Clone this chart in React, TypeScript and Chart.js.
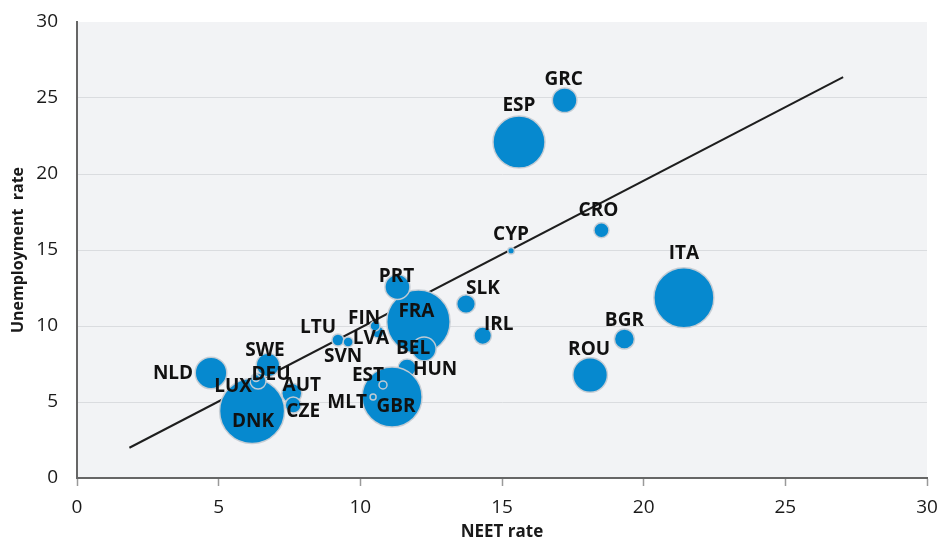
import React, { useEffect, useRef } from "react";
import { Chart, registerables } from "chart.js";

Chart.register(...registerables);

// ---- Data (drawing order: larger bubbles first) ----
const countries = [
  "DNK", "FRA", "ITA", "ESP", "ROU", "NLD", "GRC", "PRT", "SWE", "HUN",
  "GBR", "BEL", "AUT", "BGR", "SLK", "IRL", "CZE", "DEU", "CRO", "LTU",
  "LVA", "SVN", "FIN", "EST", "LUX", "CYP", "MLT",
];
const neetRate = [
  6.18, 12.05, 21.42, 15.6, 18.11, 4.73, 17.21, 11.31, 6.74, 11.65,
  11.12, 12.25, 7.58, 19.32, 13.73, 14.32, 7.63, 6.39, 18.51, 9.21,
  10.62, 9.57, 10.52, 10.8, 6.32, 15.32, 10.45,
];
const unemploymentRate = [
  4.41, 10.28, 11.86, 22.1, 6.78, 6.91, 24.85, 12.57, 7.43, 7.24,
  5.33, 8.49, 5.57, 9.14, 11.45, 9.36, 4.8, 6.38, 16.3, 9.08,
  9.61, 8.95, 10.0, 6.12, 6.58, 14.95, 5.33,
];
const bubbleSize = [
  32.5, 31.7, 30, 26, 17.3, 15.8, 12.3, 12.5, 11.7, 9,
  30, 12, 10, 10, 9.3, 8.7, 8, 8, 7.5, 6,
  6, 5, 5, 4, 3.5, 3.3, 3,
];
const trendNeet = [1.85, 27.04];
const trendUnemployment = [1.99, 26.38];
const axisTicks = [0, 5, 10, 15, 20, 25, 30];

// ---- Label placement (pixel offsets from bubble centre) ----
const labelOffsets: Record<string, [number, number]> = {
  GRC: [-1, -21], ESP: [0, -36], CRO: [-3, -20], CYP: [0, -16], ITA: [0, -44],
  SLK: [17, -15], IRL: [16, -11], BGR: [0, -18], ROU: [-1, -25], PRT: [-1, -10],
  FRA: [-2, -10], BEL: [-11, 0], HUN: [28, 2], GBR: [4, 10], EST: [-15, -9],
  MLT: [-26, 6], LTU: [-20, -12], SVN: [-5, 15], FIN: [-11, -7], LVA: [-7, 7],
  DNK: [1, 11], NLD: [-38, 1], SWE: [-3, -14], DEU: [13, -6], LUX: [-23, 9],
  AUT: [10, -8], CZE: [10, 7],
};

const FONT = "'Open Sans', 'DejaVu Sans', sans-serif";

const plotBackground = {
  id: "plotBackground",
  beforeDraw(chart: any) {
    const { ctx, chartArea } = chart;
    ctx.save();
    ctx.fillStyle = "#f2f3f5";
    ctx.fillRect(chartArea.left, chartArea.top, chartArea.right - chartArea.left, chartArea.bottom - chartArea.top);
    ctx.restore();
  },
};

const countryLabels = {
  id: "countryLabels",
  afterDatasetsDraw(chart: any) {
    const { ctx } = chart;
    const meta = chart.getDatasetMeta(1);
    ctx.save();
    ctx.font = `bold 19px ${FONT}`;
    ctx.fillStyle = "#111111";
    ctx.textAlign = "center";
    ctx.textBaseline = "middle";
    meta.data.forEach((el: any, i: number) => {
      const name = countries[i];
      const off = labelOffsets[name] || [0, 0];
      ctx.fillText(name, el.x + off[0], el.y + off[1]);
    });
    ctx.restore();
  },
};

const zeroPadding = (scale: any) => {
  scale.paddingLeft = 0;
  scale.paddingRight = 0;
  scale.paddingTop = 0;
  scale.paddingBottom = 0;
};

export default function App() {
  const canvasRef = useRef<HTMLCanvasElement | null>(null);

  useEffect(() => {
    if (!canvasRef.current) return;
    const bubbles = countries.map((c, i) => ({
      x: neetRate[i],
      y: unemploymentRate[i],
      r: bubbleSize[i],
    }));
    const trend = trendNeet.map((x, i) => ({ x, y: trendUnemployment[i] }));

    const chart = new Chart(canvasRef.current, {
      type: "bubble",
      data: {
        datasets: [
          {
            type: "line",
            data: trend,
            borderColor: "#1e1e1e",
            borderWidth: 2,
            pointRadius: 0,
            fill: false,
            order: 2,
          } as any,
          {
            type: "bubble",
            data: bubbles,
            backgroundColor: "#0689cf",
            borderColor: "rgba(200,205,212,0.95)",
            borderWidth: 1.5,
            order: 1,
          } as any,
        ],
      },
      options: {
        responsive: false,
        animation: false,
        events: [],
        layout: { autoPadding: false, padding: { top: 22, right: 16, left: 0, bottom: 0 } },
        plugins: {
          legend: { display: false },
          tooltip: { enabled: false },
        },
        scales: {
          x: {
            type: "linear",
            min: 0,
            max: 30,
            afterBuildTicks: (scale: any) => {
              scale.ticks = axisTicks.map((v) => ({ value: v }));
            },
            afterFit: (scale: any) => {
              scale.height = 64;
              zeroPadding(scale);
            },
            ticks: {
              font: { family: FONT, size: 19 },
              color: "#1a1a1a",
              padding: 10,
              maxRotation: 0,
            },
            grid: {
              drawOnChartArea: false,
              drawTicks: true,
              tickLength: 8,
              tickColor: "#9a9a9a",
              tickWidth: 1.5,
            },
            border: { color: "#666666", width: 2 },
            title: {
              display: true,
              text: "NEET rate",
              font: { family: FONT, size: 17, weight: "bold" },
              color: "#1a1a1a",
              padding: { top: 0, bottom: 0 },
            },
          },
          y: {
            type: "linear",
            min: 0,
            max: 30,
            afterBuildTicks: (scale: any) => {
              scale.ticks = axisTicks.map((v) => ({ value: v }));
            },
            afterFit: (scale: any) => {
              scale.width = 77;
              zeroPadding(scale);
            },
            ticks: {
              font: { family: FONT, size: 19 },
              color: "#1a1a1a",
              padding: 19,
            },
            grid: {
              drawTicks: false,
              color: (ctx: any) => (ctx.tick && ctx.tick.value === 30 ? "rgba(0,0,0,0)" : "#dadcdf"),
              lineWidth: 1,
            },
            border: { color: "#666666", width: 2 },
            title: {
              display: true,
              text: "Unemployment  rate",
              font: { family: FONT, size: 16, weight: "bold" },
              color: "#1a1a1a",
              padding: { top: 9, bottom: 0 },
            },
          },
        },
      } as any,
      plugins: [plotBackground, countryLabels],
    });

    return () => chart.destroy();
  }, []);

  return (
    <div style={{ position: "absolute", left: 0, top: 0, width: 943, height: 542, background: "#ffffff" }}>
      <canvas ref={canvasRef} width={943} height={542} style={{ display: "block", width: 943, height: 542 }} />
    </div>
  );
}
